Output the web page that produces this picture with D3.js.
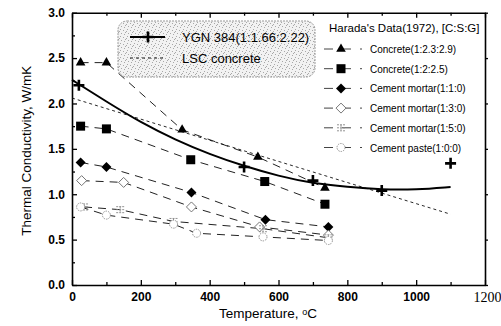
<!DOCTYPE html>
<html>
<head>
<meta charset="utf-8">
<script src="https://cdn.jsdelivr.net/npm/d3@7"></script>
<style>
  body { margin: 0; background: #fff; }
  svg { font-family: Arial, "Liberation Sans", sans-serif; }
</style>
</head>
<body>
<svg></svg>
<script>
const width = 501;
const height = 326;

// Harada's Data (1972) series: [temperature, conductivity]
const concrete1 = [[25, 2.45], [100, 2.45], [320, 1.71], [540, 1.41], [735, 1.07]];
const concrete2 = [[25, 1.75], [100, 1.72], [345, 1.38], [560, 1.14], [735, 0.89]];
const mortar110 = [[25, 1.35], [100, 1.30], [347, 1.02], [562, 0.72], [745, 0.64]];
const mortar130 = [[28, 1.15], [150, 1.13], [347, 0.86], [545, 0.64], [745, 0.55]];
const mortar150 = [[35, 0.86], [140, 0.83], [295, 0.70], [555, 0.62], [745, 0.52]];
const paste100 = [[25, 0.86], [100, 0.77], [295, 0.67], [362, 0.57], [555, 0.53], [745, 0.49]];

// YGN 384 measurements and its fitted curve
const ygnPoints = [[20, 2.2], [500, 1.30], [700, 1.15], [900, 1.04], [1100, 1.34]];
const ygnCurve = [[0, 2.26], [100, 2.02], [200, 1.79], [300, 1.60], [400, 1.44], [500, 1.31],
                  [600, 1.20], [700, 1.12], [800, 1.08], [900, 1.05], [1000, 1.05], [1100, 1.08]];
// LSC concrete line
const lscLine = [[0, 2.06], [1100, 0.78]];

const xTicks = [0, 200, 400, 600, 800, 1000, 1200];
const yTicks = [0, 0.5, 1.0, 1.5, 2.0, 2.5, 3.0];

const haradaLabels = ['Concrete(1:2.3:2.9)', 'Concrete(1:2:2.5)', 'Cement mortar(1:1:0)',
                      'Cement mortar(1:3:0)', 'Cement mortar(1:5:0)', 'Cement paste(1:0:0)'];

let svg = d3.select('svg').attr('width', width).attr('height', height);

const pLeft = 72, pRight = 485, pTop = 12.7, pBottom = 285;

let xScale = d3.scaleLinear().domain([0, 1200]).range([pLeft, pRight]);
let yScale = d3.scaleLinear().domain([0, 3]).range([pBottom, pTop]);

// texture for the left legend box
let defs = svg.append('defs');
let pat = defs.append('pattern').attr('id', 'speck').attr('width', 7).attr('height', 7)
    .attr('patternUnits', 'userSpaceOnUse');
pat.append('rect').attr('width', 7).attr('height', 7).attr('fill', '#f2f2f2');
[[1, 1], [4, 2], [2, 5], [6, 4], [5, 6], [0, 3]].forEach(p => {
    pat.append('rect').attr('x', p[0]).attr('y', p[1]).attr('width', 1).attr('height', 1).attr('fill', '#a8a8a8');
});

function styleTicks(g) {
    g.selectAll('.tick text')
        .attr('fill', '#000')
        .style('font-family', 'Arial, "Liberation Sans", sans-serif')
        .style('font-weight', 'bold')
        .style('font-size', '12px');
}

// axes
function drawAxes() {
    svg.append('g')
        .attr('transform', 'translate(0,' + pBottom + ')')
        .call(d3.axisBottom(xScale).tickValues(d3.range(100, 1200, 200)).tickSize(-3).tickFormat(''))
        .call(g => g.select('.domain').remove());
    svg.append('g')
        .attr('transform', 'translate(0,' + pTop + ')')
        .call(d3.axisTop(xScale).tickValues(d3.range(100, 1200, 200)).tickSize(-3).tickFormat(''))
        .call(g => g.select('.domain').remove());
    svg.append('g')
        .attr('transform', 'translate(' + pLeft + ',0)')
        .call(d3.axisLeft(yScale).tickValues(d3.range(0.25, 3, 0.5)).tickSize(-3).tickFormat(''))
        .call(g => g.select('.domain').remove());

    let xAxis = svg.append('g')
        .attr('transform', 'translate(0,' + pBottom + ')')
        .call(d3.axisBottom(xScale).tickValues(xTicks).tickSizeInner(-5).tickSizeOuter(0)
            .tickPadding(7).tickFormat(d3.format('d')))
        .call(styleTicks);
    xAxis.selectAll('.tick text').filter(d => d === 1200)
        .style('font-family', '"Liberation Serif", "Times New Roman", serif')
        .style('font-weight', 'normal').style('font-size', '14px')
        .attr('dx', 2);

    svg.append('g')
        .attr('transform', 'translate(' + pLeft + ',0)')
        .call(d3.axisLeft(yScale).tickValues(yTicks).tickSizeInner(-5).tickSizeOuter(0).tickPadding(7)
            .tickFormat(d3.format('.1f')))
        .call(styleTicks);

    svg.append('g')
        .attr('transform', 'translate(0,' + pTop + ')')
        .call(d3.axisTop(xScale).tickValues(xTicks).tickSizeInner(-5).tickSizeOuter(0).tickFormat(''));

    svg.append('g')
        .attr('transform', 'translate(' + pRight + ',0)')
        .call(d3.axisRight(yScale).tickValues(yTicks).tickSizeInner(3).tickSizeOuter(0).tickFormat(''));

    svg.selectAll('.domain').attr('stroke-width', 1.6);
    svg.selectAll('.tick line').attr('stroke-width', 1.3);

    svg.append('text')
        .attr('transform', 'translate(27,' + ((pTop + pBottom) / 2 + 2) + ') rotate(-90)')
        .attr('text-anchor', 'middle')
        .attr('dominant-baseline', 'middle')
        .style('font-size', '13.5px')
        .text('Thermal Conductivity, W/mK');

    let xt = svg.append('text')
        .attr('x', 268).attr('y', 318)
        .attr('text-anchor', 'middle')
        .style('font-size', '13.5px');
    xt.append('tspan').text('Temperature, ');
    xt.append('tspan').attr('font-size', '9px').attr('dy', -3).text('o');
    xt.append('tspan').attr('dy', 3).text('C');
}

// symbols
function symbol(g, kind, x, y) {
    if (kind === 'tri') {
        g.append('path').attr('d', d3.symbol(d3.symbolTriangle, 40)()).attr('transform', `translate(${x},${y})`).attr('fill', '#000');
    } else if (kind === 'sq') {
        g.append('rect').attr('x', x - 4.5).attr('y', y - 4.5).attr('width', 9).attr('height', 9).attr('fill', '#000');
    } else if (kind === 'dia') {
        g.append('path').attr('d', `M${x},${y - 5}L${x + 5},${y}L${x},${y + 5}L${x - 5},${y}Z`).attr('fill', '#000');
    } else if (kind === 'odia') {
        g.append('path').attr('d', `M${x},${y - 5}L${x + 5},${y}L${x},${y + 5}L${x - 5},${y}Z`)
            .attr('fill', '#fff').attr('stroke', '#666').attr('stroke-width', 0.9);
    } else if (kind === 'bar') {
        g.append('path').attr('d', `M${x - 4},${y - 3}h8M${x - 4},${y + 3}h8M${x},${y - 3}v6M${x - 4},${y}h8`)
            .attr('stroke', '#888').attr('stroke-width', 0.9).attr('stroke-dasharray', '2,1').attr('fill', 'none');
    } else if (kind === 'circ') {
        g.append('circle').attr('cx', x).attr('cy', y).attr('r', 4).attr('fill', '#fff')
            .attr('stroke', '#888').attr('stroke-width', 0.9).attr('stroke-dasharray', '1.5,1');
    } else if (kind === 'plus') {
        g.append('path').attr('d', `M${x - 5.5},${y}h11M${x},${y - 5.5}v11`).attr('stroke', '#000').attr('stroke-width', 2.6);
    }
}

function drawData() {
    const line = d3.line().x(d => xScale(d[0])).y(d => yScale(d[1]));
    const series = [
        { data: concrete1, kind: 'tri' },
        { data: concrete2, kind: 'sq' },
        { data: mortar110, kind: 'dia' },
        { data: mortar130, kind: 'odia' },
        { data: mortar150, kind: 'bar' },
        { data: paste100, kind: 'circ' }
    ];
    series.forEach(s => {
        svg.append('path').datum(s.data).attr('d', line)
            .attr('fill', 'none').attr('stroke', '#222').attr('stroke-width', 1)
            .attr('stroke-dasharray', '8,6');
    });

    svg.append('path').datum(lscLine).attr('d', line)
        .attr('fill', 'none').attr('stroke', '#111').attr('stroke-width', 0.9).attr('stroke-dasharray', '3,3');

    svg.append('path').datum(ygnCurve).attr('d', line.curve(d3.curveBasis))
        .attr('fill', 'none').attr('stroke', '#000').attr('stroke-width', 2);

    let marks = svg.append('g');
    series.forEach(s => s.data.forEach(d => symbol(marks, s.kind, xScale(d[0]), yScale(d[1]))));
    ygnPoints.forEach(d => symbol(marks, 'plus', xScale(d[0]), yScale(d[1])));
}

function drawLegends() {
    // left box
    svg.append('rect').attr('x', 118).attr('y', 21).attr('width', 197).attr('height', 56)
        .attr('rx', 9).attr('fill', 'url(#speck)').attr('stroke', '#999').attr('stroke-dasharray', '2,1');
    svg.append('line').attr('x1', 130).attr('x2', 165).attr('y1', 37).attr('y2', 37)
        .attr('stroke', '#000').attr('stroke-width', 2);
    symbol(svg, 'plus', 148, 37);
    svg.append('text').attr('x', 182).attr('y', 41.5).style('font-size', '13px').text('YGN 384(1:1.66:2.22)');
    svg.append('line').attr('x1', 130).attr('x2', 165).attr('y1', 58).attr('y2', 58)
        .attr('stroke', '#111').attr('stroke-dasharray', '3,3');
    svg.append('text').attr('x', 182).attr('y', 62.5).style('font-size', '13px').text('LSC concrete');

    // Harada legend
    svg.append('text').attr('x', 329).attr('y', 32).style('font-size', '11.5px').text("Harada's Data(1972), [C:S:G]");
    const kinds = ['tri', 'sq', 'dia', 'odia', 'bar', 'circ'];
    haradaLabels.forEach((lab, i) => {
        let yy = 49 + i * 19.7;
        svg.append('line').attr('x1', 324).attr('x2', 362).attr('y1', yy).attr('y2', yy)
            .attr('stroke', '#444').attr('stroke-width', 1).attr('stroke-dasharray', '9,9');
        symbol(svg, kinds[i], 341, yy);
        svg.append('text').attr('x', 370).attr('y', yy + 4).style('font-size', '10px').text(lab);
    });
}

drawAxes();
drawData();
drawLegends();
</script>
</body>
</html>
